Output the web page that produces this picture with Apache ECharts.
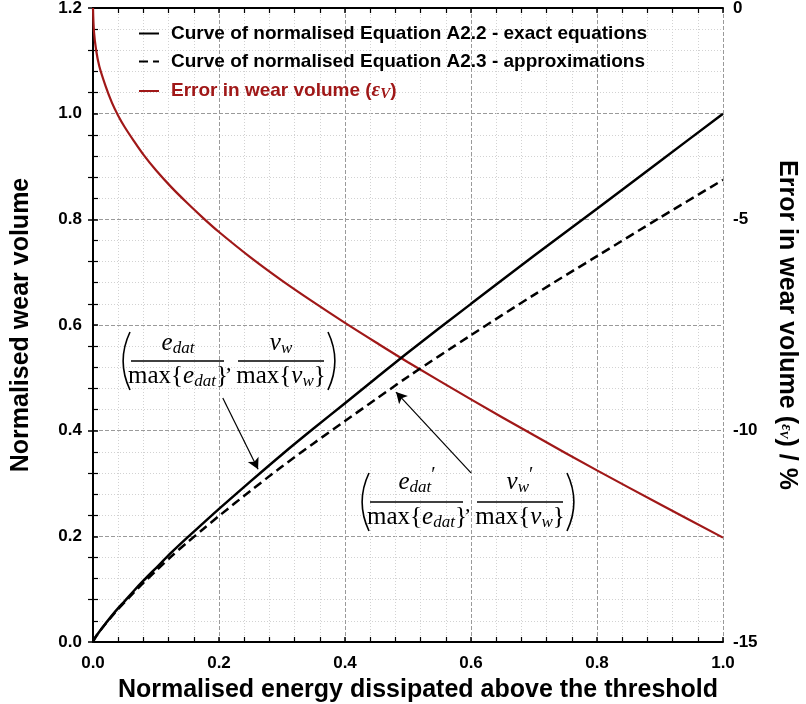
<!DOCTYPE html>
<html>
<head>
<meta charset="utf-8">
<script src="https://cdn.jsdelivr.net/npm/echarts@6/dist/echarts.min.js"></script>
<style>
html,body{margin:0;padding:0;background:#fff;}
#chart{width:806px;height:704px;}
</style>
</head>
<body>
<div id="chart"></div>
<script>
// ---- data ----
const energy = [0, 0.0015, 0.005, 0.01, 0.02, 0.03, 0.04, 0.05, 0.065, 0.08, 0.1, 0.125, 0.15, 0.175, 0.2, 0.25, 0.3, 0.35, 0.4, 0.45, 0.5, 0.6, 0.7, 0.8, 0.9, 1.0];
const exactVolume = [0, 0.004, 0.011, 0.0195, 0.035, 0.050, 0.064, 0.077, 0.097, 0.116, 0.140, 0.170, 0.198, 0.225, 0.252, 0.304, 0.355, 0.404, 0.452, 0.500, 0.548, 0.640, 0.731, 0.820, 0.910, 1.0];
const approxVolume = [0, 0.004, 0.0109, 0.0192, 0.0344, 0.0489, 0.0624, 0.0748, 0.0939, 0.112, 0.1346, 0.1628, 0.1889, 0.2138, 0.2386, 0.2861, 0.3321, 0.3759, 0.4183, 0.4604, 0.5021, 0.5807, 0.6571, 0.7303, 0.8032, 0.8747];
const errorVolume = [0, -0.55, -1.0, -1.38, -1.85, -2.24, -2.55, -2.81, -3.15, -3.47, -3.84, -4.25, -4.62, -4.97, -5.30, -5.90, -6.45, -6.96, -7.45, -7.92, -8.38, -9.26, -10.11, -10.94, -11.74, -12.53];
const seriesNames = ['Curve of normalised Equation A2.2 - exact equations', 'Curve of normalised Equation A2.3 - approximations', 'Error in wear volume'];
const arrow1 = [[0.206, 0.462], [0.262, 0.327]];
const arrow2 = [[0.600, 0.320], [0.481, 0.473]];

const RED = '#a01818';
const SANS = 'Liberation Sans, Arial, sans-serif';
const SERIF = 'Liberation Serif, DejaVu Serif, serif';

const zip = (xs, ys) => xs.map((x, i) => [x, ys[i]]);

const chart = echarts.init(document.getElementById('chart'), null, {renderer: 'canvas'});

const majorSplit = {show: true, lineStyle: {color: '#9a9a9a', width: 1, type: [4, 2]}};
const minorSplit = {show: true, lineStyle: {color: '#d2d2d2', width: 1, type: [1, 2]}};
const tickIn = {show: true, inside: true, length: 5, lineStyle: {color: '#000', width: 1.5}};
const minorTickIn = {show: true, splitNumber: 5, length: 5, lineStyle: {color: '#000', width: 1.2}};
const axisLineBlack = {show: true, lineStyle: {color: '#000', width: 2}};
const labelStyle = {color: '#000', fontFamily: SANS, fontWeight: 'bold', fontSize: 17};
const titleStyle = {color: '#000', fontFamily: SANS, fontWeight: 'bold', fontSize: 25};

const serifRich = {
  v: {fontFamily: SERIF, fontStyle: 'italic', fontSize: 25, color: '#000'},
  s: {fontFamily: SERIF, fontStyle: 'italic', fontSize: 17, color: '#000', padding: [11, 0, 0, 0]},
  p: {fontFamily: SERIF, fontSize: 20, color: '#000', padding: [0, 0, 12, 0]},
  r: {fontFamily: SERIF, fontSize: 25, color: '#000'}
};

function frac(x, y, num, den) {
  return [
    {type: 'text', style: {x: x, y: y - 4, text: num, rich: serifRich, font: '25px ' + SERIF, fill: '#000', align: 'center', verticalAlign: 'bottom'}, z: 20},
    {type: 'text', style: {x: x, y: y + 1, text: den, rich: serifRich, font: '25px ' + SERIF, fill: '#000', align: 'center', verticalAlign: 'top'}, z: 20}
  ];
}

function paren(x, y, left) {
  const h = 29;
  const d = left ? -9 : 9;
  return {type: 'bezierCurve', shape: {x1: x, y1: y - h, x2: x, y2: y + h, cpx1: x + d, cpy1: y - 10, cpx2: x + d, cpy2: y + 10}, style: {stroke: '#000', lineWidth: 1.6, fill: null}, z: 20};
}

function annotation(x0, yBar, primed) {
  const els = [];
  const n1 = primed ? '{v|e}{s|dat}{p|′}' : '{v|e}{s|dat}';
  const n2 = primed ? '{v|v}{s|w}{p|′}' : '{v|v}{s|w}';
  const d1 = '{r|max{}{v|e}{s|dat}}';
  const d2 = '{r|max{}{v|v}{s|w}}';
  els.push(paren(x0 + 12, yBar, true));
  els.push({type: 'line', shape: {x1: x0 + 13, y1: yBar, x2: x0 + 106, y2: yBar}, style: {stroke: '#000', lineWidth: 1.5}, z: 20});
  els.push(...frac(x0 + 60, yBar, n1, d1));
  els.push({type: 'text', style: {x: x0 + 108, y: yBar + 3, text: ',', font: 'italic 22px ' + SERIF, fill: '#000', align: 'left', verticalAlign: 'middle'}, z: 20});
  els.push({type: 'line', shape: {x1: x0 + 120, y1: yBar, x2: x0 + 206, y2: yBar}, style: {stroke: '#000', lineWidth: 1.5}, z: 20});
  els.push(...frac(x0 + 163, yBar, n2, d2));
  els.push(paren(x0 + 210, yBar, false));
  return els;
}

const option = {
  backgroundColor: '#fff',
  animation: false,
  grid: {left: 93, right: 83, top: 8, bottom: 62, containLabel: false, outerBoundsMode: 'none'},
  legend: {
    left: 138, top: 24, padding: 0, orient: 'vertical', itemWidth: 20, itemHeight: 14, itemGap: 9,
    itemStyle: {opacity: 0},
    data: [
      {name: seriesNames[0], textStyle: {color: '#000'}},
      {name: seriesNames[1], textStyle: {color: '#000'}},
      {name: seriesNames[2], textStyle: {color: RED}}
    ],
    formatter: function (name) {
      if (name === seriesNames[2]) return '{rb|' + name + ' (}{g|ε}{gs|V}{rb|)}';
      return '{b|' + name + '}';
    },
    textStyle: {
      fontFamily: SANS, fontWeight: 'bold', fontSize: 19, padding: [0, 0, 0, 7],
      rich: {
        b: {fontFamily: SANS, fontWeight: 'bold', fontSize: 19, color: '#000', lineHeight: 20},
        rb: {fontFamily: SANS, fontWeight: 'bold', fontSize: 19, color: RED, lineHeight: 20},
        g: {fontFamily: SERIF, fontStyle: 'italic', fontSize: 21, color: RED, lineHeight: 20},
        gs: {fontFamily: SERIF, fontStyle: 'italic', fontSize: 15, color: RED, padding: [7, 0, 0, 0], lineHeight: 14}
      }
    }
  },
  xAxis: [
    {
      type: 'value', min: 0, max: 1, interval: 0.2, position: 'bottom',
      name: 'Normalised energy dissipated above the threshold', nameLocation: 'middle', nameGap: 36,
      nameTextStyle: Object.assign({padding: [0, 0, 0, 20]}, titleStyle),
      axisLine: axisLineBlack, axisTick: tickIn, minorTick: minorTickIn,
      axisLabel: Object.assign({margin: 13, formatter: v => v.toFixed(1)}, labelStyle),
      splitLine: majorSplit, minorSplitLine: minorSplit
    },
    {
      type: 'value', min: 0, max: 1, interval: 0.2, position: 'top',
      axisLine: axisLineBlack, axisTick: tickIn, minorTick: minorTickIn,
      axisLabel: {show: false}, splitLine: {show: false}
    }
  ],
  yAxis: [
    {
      type: 'value', min: 0, max: 1.2, interval: 0.2, position: 'left',
      name: 'Normalised wear volume', nameLocation: 'middle', nameGap: 59,
      nameTextStyle: titleStyle,
      axisLine: axisLineBlack, axisTick: tickIn, minorTick: minorTickIn,
      axisLabel: Object.assign({margin: 11, formatter: v => v.toFixed(1)}, labelStyle),
      splitLine: majorSplit, minorSplitLine: minorSplit
    },
    {
      type: 'value', min: -15, max: 0, interval: 5, position: 'right',
      name: '{b|Error in wear volume (}{g|ε}{gs|V}{b|) / %}', nameLocation: 'middle', nameGap: 51, nameRotate: -90,
      nameTextStyle: Object.assign({}, titleStyle, {
        rich: {
          b: {fontFamily: SANS, fontWeight: 'bold', fontSize: 25, color: '#000'},
          g: {fontFamily: SERIF, fontStyle: 'italic', fontSize: 16, color: '#000'},
          gs: {fontFamily: SERIF, fontStyle: 'italic', fontSize: 12, color: '#000', padding: [6, 0, 0, 0]}
        }
      }),
      axisLine: axisLineBlack, axisTick: tickIn, minorTick: minorTickIn,
      axisLabel: Object.assign({margin: 10}, labelStyle),
      splitLine: {show: false}
    }
  ],
  series: [
    {
      name: seriesNames[0], type: 'line', xAxisIndex: 0, yAxisIndex: 0,
      data: zip(energy, exactVolume), smooth: 0.3, symbol: 'none', showSymbol: false,
      lineStyle: {color: '#000', width: 2.5, type: 'solid'}, itemStyle: {color: '#000'}, z: 5,
      markLine: {
        silent: true, symbol: ['none', 'arrow'], symbolSize: [9, 11],
        lineStyle: {color: '#000', width: 1.2, type: 'solid'},
        label: {show: false},
        data: [
          [{coord: arrow1[0]}, {coord: arrow1[1]}],
          [{coord: arrow2[0]}, {coord: arrow2[1]}]
        ]
      }
    },
    {
      name: seriesNames[1], type: 'line', xAxisIndex: 0, yAxisIndex: 0,
      data: zip(energy, approxVolume), smooth: 0.3, symbol: 'none', showSymbol: false,
      lineStyle: {color: '#000', width: 2.5, type: [9, 5]}, itemStyle: {color: '#000'}, z: 4
    },
    {
      name: seriesNames[2], type: 'line', xAxisIndex: 0, yAxisIndex: 1,
      data: zip(energy, errorVolume), smooth: 0.3, symbol: 'none', showSymbol: false,
      lineStyle: {color: RED, width: 2.2}, itemStyle: {color: RED}, z: 3
    }
  ],
  graphic: [].concat(annotation(118, 361, false), annotation(357, 502, true))
};

chart.setOption(option);
</script>
</body>
</html>
